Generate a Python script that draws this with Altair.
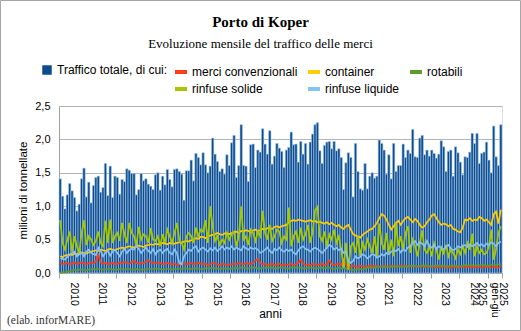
import altair as alt
import pandas as pd

# ---- data (million tonnes, monthly, Jan 2010 - Jun 2025) ----
totale = [
    1.41, 1.15, 0.96, 1.17, 1.34, 1.23, 1.13, 0.93, 1.03, 1.41, 1.57, 1.14,
    1.36, 1.05, 1.31, 1.43, 1.45, 1.21, 1.28, 1.64, 1.16, 1.60, 1.13, 1.45,
    1.43, 1.18, 1.40, 1.37, 1.56, 1.54, 1.49, 1.49, 1.17, 1.25, 1.49, 1.38,
    1.41, 1.33, 1.30, 1.25, 1.47, 1.50, 1.24, 1.45, 1.32, 1.55, 1.40, 1.29,
    1.55, 1.56, 1.52, 1.48, 1.09, 1.53, 1.53, 1.69, 1.38, 1.79, 1.73, 1.62,
    1.80, 1.62, 1.50, 1.60, 2.02, 1.78, 1.67, 1.52, 1.56, 1.48, 1.77, 1.61,
    1.95, 2.06, 1.43, 1.61, 2.22, 1.61, 1.60, 1.37, 1.92, 1.93, 1.58, 1.84,
    1.81, 2.16, 1.93, 1.78, 2.13, 1.63, 1.75, 1.94, 1.87, 1.82, 1.58, 1.84,
    1.88, 2.11, 1.92, 1.93, 1.66, 1.97, 1.78, 1.94, 1.63, 1.96, 2.08, 2.22,
    2.25, 1.83, 1.64, 1.91, 1.96, 1.97, 1.86, 1.97, 1.83, 1.86, 1.73, 1.25,
    1.65, 1.80, 1.73, 1.14, 1.94, 1.52, 1.26, 1.24, 1.64, 1.26, 1.45, 1.50,
    1.42, 1.45, 1.99, 1.94, 1.84, 1.48, 1.77, 1.41, 1.94, 1.52, 1.61, 1.61,
    1.93, 1.73, 1.84, 1.79, 2.15, 1.74, 1.73, 2.02, 2.06, 1.77, 1.84, 1.75,
    1.84, 1.79, 1.72, 1.78, 1.98, 1.89, 1.52, 1.82, 1.84, 1.45, 1.89, 1.80,
    1.66, 1.47, 1.74, 1.73, 1.81, 2.09, 1.94, 2.09, 1.64, 1.79, 1.81, 1.96,
    1.69, 1.50, 2.20, 1.74, 1.61, 2.22,
]

merci_convenzionali = [
    0.16, 0.13, 0.14, 0.15, 0.13, 0.14, 0.16, 0.13, 0.15, 0.16, 0.14, 0.13,
    0.15, 0.16, 0.14, 0.18, 0.27, 0.16, 0.14, 0.15, 0.13, 0.14, 0.15, 0.13,
    0.14, 0.16, 0.15, 0.17, 0.15, 0.14, 0.16, 0.18, 0.15, 0.14, 0.16, 0.15,
    0.17, 0.19, 0.16, 0.15, 0.14, 0.16, 0.15, 0.13, 0.14, 0.15, 0.14, 0.13,
    0.14, 0.12, 0.13, 0.15, 0.14, 0.13, 0.14, 0.15, 0.13, 0.14, 0.15, 0.14,
    0.13, 0.14, 0.12, 0.13, 0.15, 0.14, 0.13, 0.12, 0.14, 0.13, 0.12, 0.13,
    0.13, 0.14, 0.13, 0.15, 0.14, 0.13, 0.15, 0.14, 0.13, 0.15, 0.19, 0.21,
    0.15, 0.13, 0.14, 0.12, 0.13, 0.14, 0.12, 0.13, 0.14, 0.12, 0.13, 0.12,
    0.13, 0.14, 0.12, 0.13, 0.15, 0.20, 0.14, 0.12, 0.13, 0.12, 0.14, 0.13,
    0.12, 0.13, 0.14, 0.12, 0.13, 0.19, 0.13, 0.12, 0.13, 0.14, 0.12, 0.20,
    0.13, 0.07, 0.10, 0.11, 0.10, 0.09, 0.11, 0.10, 0.09, 0.10, 0.11, 0.10,
    0.11, 0.10, 0.09, 0.10, 0.11, 0.09, 0.10, 0.11, 0.10, 0.09, 0.10, 0.11,
    0.10, 0.11, 0.09, 0.10, 0.11, 0.10, 0.09, 0.10, 0.11, 0.09, 0.10, 0.09,
    0.10, 0.09, 0.08, 0.10, 0.09, 0.10, 0.08, 0.09, 0.07, 0.10, 0.09, 0.08,
    0.09, 0.10, 0.08, 0.09, 0.10, 0.09, 0.08, 0.10, 0.09, 0.08, 0.09, 0.10,
    0.09, 0.08, 0.10, 0.09, 0.08, 0.10,
]

container = [
    0.25, 0.24, 0.26, 0.27, 0.28, 0.27, 0.29, 0.28, 0.30, 0.31, 0.30, 0.29,
    0.31, 0.32, 0.33, 0.34, 0.33, 0.35, 0.34, 0.33, 0.35, 0.36, 0.35, 0.34,
    0.36, 0.37, 0.38, 0.37, 0.39, 0.40, 0.39, 0.38, 0.40, 0.41, 0.40, 0.39,
    0.41, 0.42, 0.43, 0.42, 0.44, 0.43, 0.44, 0.45, 0.44, 0.43, 0.45, 0.44,
    0.44, 0.45, 0.46, 0.45, 0.47, 0.48, 0.47, 0.49, 0.50, 0.52, 0.51, 0.54,
    0.54, 0.52, 0.55, 0.56, 0.57, 0.58, 0.60, 0.58, 0.57, 0.59, 0.60, 0.58,
    0.60, 0.61, 0.62, 0.60, 0.63, 0.62, 0.64, 0.63, 0.61, 0.64, 0.65, 0.63,
    0.64, 0.66, 0.65, 0.67, 0.68, 0.66, 0.69, 0.70, 0.68, 0.70, 0.71, 0.72,
    0.76, 0.78, 0.79, 0.78, 0.80, 0.79, 0.78, 0.77, 0.78, 0.79, 0.77, 0.78,
    0.76, 0.77, 0.75, 0.74, 0.76, 0.73, 0.75, 0.72, 0.70, 0.72, 0.68, 0.66,
    0.70, 0.72, 0.65, 0.58, 0.56, 0.55, 0.53, 0.57, 0.60, 0.62, 0.65, 0.66,
    0.70, 0.75, 0.82, 0.88, 0.86, 0.80, 0.72, 0.65, 0.70, 0.75, 0.78, 0.72,
    0.78, 0.82, 0.84, 0.80, 0.76, 0.81, 0.78, 0.72, 0.68, 0.70, 0.76, 0.80,
    0.86, 0.88, 0.82, 0.76, 0.72, 0.74, 0.73, 0.70, 0.72, 0.66, 0.65, 0.62,
    0.61, 0.68, 0.80, 0.79, 0.82, 0.78, 0.80, 0.79, 0.84, 0.82, 0.78, 0.80,
    0.76, 0.72, 0.88, 0.92, 0.74, 0.95,
]

rotabili = [
    0.00, 0.01, 0.01, 0.02, 0.03, 0.04, 0.05, 0.04, 0.05, 0.05, 0.05, 0.04,
    0.05, 0.05, 0.06, 0.05, 0.06, 0.06, 0.05, 0.05, 0.06, 0.06, 0.05, 0.05,
    0.05, 0.06, 0.06, 0.05, 0.06, 0.06, 0.05, 0.05, 0.06, 0.05, 0.05, 0.05,
    0.05, 0.06, 0.06, 0.06, 0.07, 0.06, 0.06, 0.05, 0.06, 0.06, 0.06, 0.05,
    0.06, 0.06, 0.07, 0.06, 0.07, 0.07, 0.06, 0.06, 0.07, 0.07, 0.07, 0.06,
    0.06, 0.07, 0.07, 0.07, 0.08, 0.07, 0.07, 0.06, 0.07, 0.07, 0.07, 0.06,
    0.07, 0.07, 0.08, 0.07, 0.08, 0.08, 0.07, 0.07, 0.08, 0.08, 0.08, 0.07,
    0.07, 0.08, 0.08, 0.08, 0.08, 0.08, 0.07, 0.07, 0.08, 0.08, 0.08, 0.07,
    0.07, 0.08, 0.08, 0.08, 0.08, 0.08, 0.07, 0.07, 0.08, 0.08, 0.08, 0.07,
    0.07, 0.08, 0.08, 0.07, 0.08, 0.08, 0.07, 0.06, 0.07, 0.08, 0.07, 0.07,
    0.07, 0.06, 0.05, 0.04, 0.05, 0.06, 0.06, 0.05, 0.07, 0.08, 0.08, 0.08,
    0.08, 0.09, 0.09, 0.10, 0.09, 0.10, 0.09, 0.09, 0.10, 0.10, 0.10, 0.09,
    0.09, 0.10, 0.10, 0.11, 0.10, 0.11, 0.10, 0.10, 0.11, 0.11, 0.11, 0.10,
    0.10, 0.11, 0.11, 0.11, 0.11, 0.11, 0.10, 0.10, 0.11, 0.11, 0.11, 0.10,
    0.10, 0.11, 0.12, 0.11, 0.12, 0.12, 0.11, 0.11, 0.12, 0.12, 0.12, 0.11,
    0.11, 0.12, 0.13, 0.12, 0.13, 0.13,
]

rinfuse_solide = [
    0.79, 0.45, 0.35, 0.50, 0.62, 0.32, 0.55, 0.40, 0.30, 0.60, 0.79, 0.42,
    0.55, 0.50, 0.42, 0.48, 0.62, 0.45, 0.40, 0.78, 0.45, 0.80, 0.45, 0.55,
    0.60, 0.48, 0.75, 0.58, 0.45, 0.75, 0.60, 0.55, 0.42, 0.69, 0.50, 0.58,
    0.55, 0.45, 0.67, 0.50, 0.48, 0.55, 0.40, 0.58, 0.45, 0.65, 0.55, 0.45,
    0.60, 0.75, 0.50, 0.45, 0.35, 0.55, 0.60, 0.55, 0.45, 0.68, 0.55, 0.65,
    0.62, 0.79, 0.45, 1.00, 0.70, 0.48, 0.55, 0.42, 0.50, 0.45, 0.60, 0.50,
    0.58, 0.62, 0.40, 0.55, 1.00, 0.50, 0.55, 0.42, 0.65, 0.60, 0.48, 0.62,
    0.55, 0.93, 0.60, 0.50, 0.72, 0.48, 0.55, 0.65, 0.62, 0.45, 0.55, 0.50,
    0.98, 0.40, 0.55, 0.62, 0.45, 0.68, 0.50, 0.58, 0.72, 0.45, 0.62, 0.94,
    0.99, 0.55, 0.48, 0.62, 0.40, 0.58, 0.50, 0.65, 0.45, 0.55, 0.35, 0.08,
    0.45, 0.05, 0.40, 0.45, 0.30, 0.55, 0.25, 0.45, 0.35, 0.50, 0.40, 0.30,
    0.55, 0.25, 0.74, 0.45, 0.35, 0.60, 0.30, 0.50, 0.25, 0.74, 0.40, 0.55,
    0.35, 0.60, 0.70, 0.30, 0.50, 0.40, 0.25, 0.45, 0.64, 0.35, 0.30, 0.40,
    0.25, 0.45, 0.35, 0.20, 0.38, 0.30, 0.42, 0.25, 0.35, 0.30, 0.22, 0.35,
    0.28, 0.40, 0.30, 0.45, 0.35, 0.59, 0.25, 0.40, 0.30, 0.35, 0.28, 0.30,
    0.40, 0.65, 0.20, 0.35, 0.60, 0.70,
]

rinfuse_liquide = [
    0.22, 0.21, 0.20, 0.24, 0.27, 0.30, 0.32, 0.25, 0.28, 0.30, 0.25, 0.32,
    0.35, 0.30, 0.28, 0.27, 0.38, 0.33, 0.25, 0.30, 0.33, 0.26, 0.32, 0.35,
    0.30, 0.25, 0.32, 0.36, 0.30, 0.34, 0.36, 0.35, 0.40, 0.36, 0.30, 0.34,
    0.38, 0.33, 0.30, 0.36, 0.28, 0.33, 0.35, 0.30, 0.34, 0.36, 0.30, 0.28,
    0.35, 0.30, 0.15, 0.13, 0.25, 0.30, 0.35, 0.33, 0.38, 0.40, 0.32, 0.36,
    0.38, 0.35, 0.32, 0.37, 0.34, 0.38, 0.33, 0.36, 0.40, 0.35, 0.38, 0.36,
    0.40, 0.35, 0.38, 0.36, 0.34, 0.40, 0.37, 0.35, 0.38, 0.36, 0.37, 0.35,
    0.30, 0.32, 0.35, 0.38, 0.33, 0.30, 0.36, 0.34, 0.38, 0.34, 0.32, 0.35,
    0.33, 0.35, 0.30, 0.28, 0.34, 0.38, 0.40, 0.36, 0.35, 0.32, 0.36, 0.38,
    0.36, 0.33, 0.30, 0.34, 0.38, 0.42, 0.40, 0.35, 0.38, 0.34, 0.36, 0.30,
    0.32, 0.18, 0.15, 0.18, 0.25, 0.22, 0.24, 0.28, 0.26, 0.22, 0.25, 0.28,
    0.27, 0.23, 0.25, 0.28, 0.26, 0.30, 0.28, 0.32, 0.34, 0.33, 0.36, 0.31,
    0.35, 0.33, 0.38, 0.40, 0.45, 0.48, 0.42, 0.46, 0.44, 0.40, 0.48, 0.40,
    0.38, 0.42, 0.36, 0.40, 0.38, 0.35, 0.40, 0.42, 0.37, 0.34, 0.36, 0.40,
    0.38, 0.40, 0.42, 0.39, 0.43, 0.40, 0.42, 0.45, 0.41, 0.43, 0.40, 0.44,
    0.42, 0.46, 0.44, 0.40, 0.45, 0.47,
]

serie_nomi = ["merci convenzionali", "container", "rotabili",
              "rinfuse solide", "rinfuse liquide"]
serie_valori = [merci_convenzionali, container, rotabili,
                rinfuse_solide, rinfuse_liquide]
serie_colori = ["#ff3c14", "#ffcc00", "#5f9a2a", "#a6c800", "#86c2f4"]

totale_nome = "Traffico totale, di cui:"
totale_colore = "#0d4b8c"

n = len(totale)
for v in serie_valori:
    assert len(v) == n, (len(v), n)

# tick positions: year boundaries and mid-year label positions
confini = list(range(0, n, 12)) + [n]
centri = [m + 6 for m in range(0, 180, 12)] + [183]
tick_values = sorted(set(confini + centri))

bars_df = pd.DataFrame({"m": list(range(n)), "totale": totale, "tipo": totale_nome})
lines_df = pd.concat(
    [pd.DataFrame({"m": list(range(n)), "valore": vals, "serie": nome})
     for nome, vals in zip(serie_nomi, serie_valori)],
    ignore_index=True,
)

W, H = 443, 167
x_scale = alt.Scale(domain=[0, n], nice=False, zero=False)
y_scale = alt.Scale(domain=[0, 2.5], nice=False)

x_axis = alt.Axis(
    values=tick_values,
    labelExpr=("datum.value == 183 ? ['gen-giu', '2025'] : "
               "(datum.value % 12 == 6 ? toString(2010 + floor(datum.value / 12)) : '')"),
    labelAngle=90, labelFontSize=10.5, labelFont="Liberation Sans", labelColor="#000",
    labelOverlap=False, labelFlush=False, labelPadding=4, labelLineHeight=13,
    tickSize=5, tickColor="#a0a0a0",
    tickOpacity={"condition": {"test": "datum.value % 12 == 0 || datum.value == 186",
                               "value": 1}, "value": 0},
    domainColor="#a0a0a0", grid=False,
    title="anni", titleFont="Liberation Sans", titleFontSize=12, titleFontWeight="normal",
    titleColor="#000", titleX=211, titleY=44, titleBaseline="alphabetic",
)
y_axis = alt.Axis(
    values=[0, 0.5, 1.0, 1.5, 2.0, 2.5],
    labelExpr="replace(format(datum.value, '.1f'), '.', ',')",
    labelFontSize=11, labelFont="Liberation Sans", labelColor="#000", labelPadding=9,
    ticks=False, domainColor="#a0a0a0", gridColor="#b4b4b4",
    title="milioni di tonnellate", titleFont="Liberation Sans", titleFontSize=11.5,
    titleFontWeight="normal", titleColor="#000", titleAngle=-90,
    titleX=-33, titleY=84, titleAlign="center", titleBaseline="alphabetic",
)

bars = alt.Chart(bars_df).transform_calculate(m1="datum.m + 1").mark_rect(
    stroke="#a9cdf0", strokeWidth=0.6
).encode(
    x=alt.X("m:Q", scale=x_scale, axis=x_axis),
    x2="m1:Q",
    y=alt.Y("totale:Q", scale=y_scale, axis=y_axis),
    y2=alt.datum(0),
    fill=alt.Fill("tipo:N", scale=alt.Scale(domain=[totale_nome], range=[totale_colore]),
                  legend=alt.Legend(orient="none", legendX=-18, legendY=-42, title=None,
                                    symbolType="square", symbolSize=90,
                                    symbolStrokeWidth=0, labelFontSize=12,
                                    labelFont="Liberation Sans", labelColor="#000",
                                    labelOffset=4, padding=0)),
)

lines = alt.Chart(lines_df).transform_calculate(m="datum.m + 0.5").mark_line(
    strokeWidth=1.7
).encode(
    x=alt.X("m:Q", scale=x_scale, axis=x_axis),
    y=alt.Y("valore:Q", scale=y_scale, axis=y_axis),
    stroke=alt.Stroke("serie:N", sort=serie_nomi,
                      scale=alt.Scale(domain=serie_nomi, range=serie_colori),
                      legend=alt.Legend(orient="none", legendX=114, legendY=-42, title=None,
                                        columns=3, direction="horizontal",
                                        symbolType="stroke", symbolSize=144,
                                        symbolStrokeWidth=4, labelFontSize=12,
                                        labelFont="Liberation Sans", labelColor="#000",
                                        labelOffset=3, columnPadding=2, rowPadding=1,
                                        padding=0)),
)

note = alt.Chart(pd.DataFrame({"t": ["(elab. inforMARE)"]})).mark_text(
    align="left", baseline="alphabetic", font="Liberation Serif", fontSize=11.5,
    color="#333333"
).encode(x=alt.value(-52), y=alt.value(218), text="t:N")

# decorative outer frame of the picture
frame = alt.Chart(pd.DataFrame({"k": [0]})).mark_rect(
    filled=False, stroke="#a6a6a6", strokeWidth=1
).encode(x=alt.value(-58.5), x2=alt.value(461.5), y=alt.value(-105.5), y2=alt.value(224.5))

chart = alt.layer(bars, lines, note, frame).properties(
    width=W, height=H,
    padding={"left": 59, "top": 106, "right": 19, "bottom": 58},
    autosize=alt.AutoSizeParams(type="none"),
    title=alt.TitleParams(
        text="Porto di Koper",
        subtitle="Evoluzione mensile del traffico delle merci",
        font="Liberation Serif", fontSize=15, fontWeight="bold", color="#000",
        subtitleFont="Liberation Serif", subtitleFontSize=13, subtitleColor="#000",
        subtitlePadding=8, anchor="middle", dx=-20, dy=64, offset=13,
    ),
).configure_view(stroke="#a0a0a0").configure(background="white")

chart.save("out.html", embed_options={"renderer": "svg", "actions": False})
